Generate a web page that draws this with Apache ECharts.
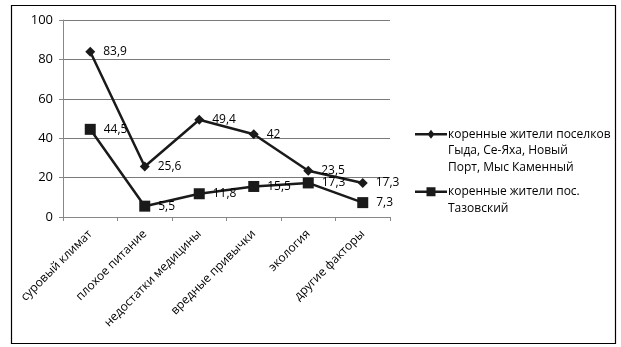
<!DOCTYPE html>
<html>
<head>
<meta charset="utf-8">
<script src="https://cdn.jsdelivr.net/npm/echarts@6/dist/echarts.min.js"></script>
<style>
  html, body { margin: 0; padding: 0; background: #fff; }
  #chart { width: 621px; height: 347px; }
</style>
</head>
<body>
<div id="chart"></div>
<script>
// Факторы, влияющие на здоровье
const categories = ['суровый климат', 'плохое питание', 'недостатки медицины', 'вредные привычки', 'экология', 'другие факторы'];
const seriesNames = [
  'коренные жители поселков\nГыда, Се-Яха, Новый\nПорт, Мыс Каменный',
  'коренные жители пос.\nТазовский'
];
const villages = [83.9, 25.6, 49.4, 42, 23.5, 17.3];
const tazovsky = [44.5, 5.5, 11.8, 15.5, 17.3, 7.3];
const yTicks = [0, 20, 40, 60, 80, 100];

const font = '"Open Sans", "Liberation Sans", sans-serif';
const LH = 16.5;   // legend line height
const chart = echarts.init(document.getElementById('chart'), null, { renderer: 'canvas' });

// legend icon: short line with a marker, aligned to the first text line
function legendIcon(lines, marker) {
  const h = lines * LH;
  const c = LH / 2;
  let p = `M0 0 M32 ${h} M0 ${c - 1.2} L32 ${c - 1.2} L32 ${c + 1.2} L0 ${c + 1.2} Z `;
  if (marker === 'diamond') {
    p += `M16 ${c - 4.5} L19.5 ${c} L16 ${c + 4.5} L12.5 ${c} Z`;
  } else {
    p += `M11.5 ${c - 4.5} L20.5 ${c - 4.5} L20.5 ${c + 4.5} L11.5 ${c + 4.5} Z`;
  }
  return 'path://' + p;
}

const labelCfg = {
  show: true,
  position: 'right',
  distance: 8,
  color: '#000',
  fontFamily: font,
  fontSize: 12,
  formatter: p => String(p.value).replace('.', ',')
};

chart.setOption({
  animation: false,
  backgroundColor: '#fff',
  textStyle: { fontFamily: font, color: '#000' },
  graphic: [{
    type: 'rect',
    shape: { x: 11.5, y: 5.5, width: 604, height: 338 },
    style: { fill: 'none', stroke: '#000', lineWidth: 1.2 },
    silent: true
  }],
  grid: { left: 63, right: 231, top: 20, bottom: 130 },
  legend: {
    orient: 'vertical',
    left: 410,
    top: 121,
    itemWidth: 32,
    itemHeight: 3 * LH,
    itemGap: 8,
    textStyle: { fontFamily: font, fontSize: 12, color: '#000', lineHeight: LH, padding: [0, 0, 0, -4] },
    data: [
      { name: seriesNames[0], icon: legendIcon(3, 'diamond'), itemHeight: 3 * LH },
      { name: seriesNames[1], icon: legendIcon(2, 'rect') }
    ]
  },
  xAxis: {
    type: 'category',
    data: categories,
    boundaryGap: true,
    axisLine: { lineStyle: { color: '#888', width: 1 } },
    axisTick: { show: true, length: 4, lineStyle: { color: '#888' } },
    axisLabel: {
      rotate: 45,
      interval: 0,
      margin: 15,
      color: '#000',
      fontFamily: font,
      fontSize: 12
    }
  },
  yAxis: {
    type: 'value',
    min: yTicks[0],
    max: yTicks[yTicks.length - 1],
    interval: 20,
    axisLine: { show: true, lineStyle: { color: '#888' } },
    axisTick: { show: true, length: 4, lineStyle: { color: '#888' } },
    splitLine: { lineStyle: { color: '#7a7a7a', width: 1 } },
    axisLabel: { color: '#000', fontFamily: font, fontSize: 13, margin: 10 }
  },
  series: [
    {
      name: seriesNames[0],
      type: 'line',
      data: villages,
      symbol: 'diamond',
      symbolSize: 10,
      lineStyle: { color: '#1a1a1a', width: 2.5 },
      itemStyle: { color: '#1a1a1a' },
      label: labelCfg
    },
    {
      name: seriesNames[1],
      type: 'line',
      data: tazovsky,
      symbol: 'rect',
      symbolSize: 11,
      lineStyle: { color: '#1a1a1a', width: 2.5 },
      itemStyle: { color: '#1a1a1a' },
      label: labelCfg
    }
  ]
});
</script>
</body>
</html>
